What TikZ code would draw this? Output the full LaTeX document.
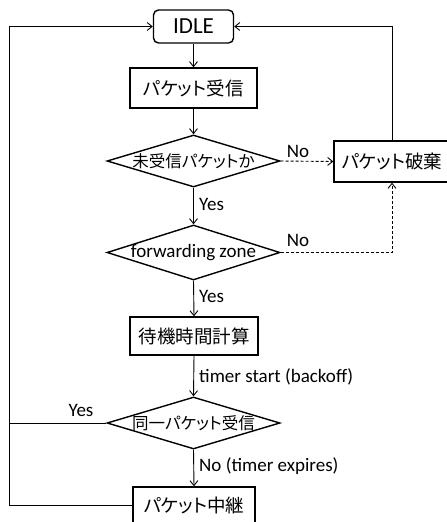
\documentclass[tikz,border=0pt]{standalone}
\usepackage{fontspec}
\setmainfont{Carlito}
\newfontfamily\jp[RawFeature=+palt]{Noto Sans CJK JP}
\usetikzlibrary{arrows.meta,shapes.geometric}
\begin{document}
\begin{tikzpicture}[x=1pt,y=-1pt,
  box/.style={draw,line width=1.4pt,inner sep=0pt,font=\jp\fontsize{18.5}{20}\selectfont},
  dia/.style={draw,shape=diamond,line width=1.4pt,inner sep=0pt,aspect=3.3,font=\jp\fontsize{16.5}{20}\selectfont},
  conn/.style={line width=0.9pt,-{Straight Barb[length=5pt,width=8pt]}},
  link/.style={line width=0.9pt},
  dconn/.style={conn,dashed,dash pattern=on 3pt off 2pt},
  lbl/.style={font=\fontsize{19}{21}\selectfont,inner sep=0pt}]
\useasboundingbox (0,0) rectangle (447,522);
\node[box,rounded corners=5pt,minimum width=80pt,minimum height=33pt,font=\fontsize{23}{25}\selectfont] (idle) at (193.5,26.5) {IDLE};
\node[box,minimum width=127pt,minimum height=40pt] (recv) at (193.5,88) {パケット受信};
\node[dia,minimum width=173pt,minimum height=52pt] (d1) at (193.5,161) {\makebox[0pt]{未受信パケットか}};
\node[box,minimum width=116pt,minimum height=41pt] (discard) at (392,161.5) {パケット破棄};
\node[dia,minimum width=173pt,minimum height=55pt,font=\fontsize{19}{21}\selectfont] (d2) at (193.5,252.5) {\makebox[0pt]{forwarding zone}};
\node[box,minimum width=128pt,minimum height=38pt] (calc) at (194,336) {待機時間計算};
\node[dia,minimum width=173pt,minimum height=52pt] (d3) at (193.5,423) {\makebox[0pt]{同一パケット受信}};
\node[box,minimum width=122pt,minimum height=36pt] (relay) at (194,505) {パケット中継};
\coordinate (lb) at (9,505);
\coordinate (lt) at (9,26.5);
\coordinate (ly) at (9,423);
\draw[conn] (idle.south) -- (recv.north);
\draw[conn] (recv.south) -- (d1.north);
\draw[conn] (d1.south) -- (d2.north);
\draw[conn] (d2.south) -- (calc.north);
\draw[conn] (calc.south) -- (d3.north);
\draw[conn] (d3.south) -- (relay.north);
\draw[conn] (relay.west) -- (lb) -- (lt) -- (idle.west);
\draw[link] (d3.west) -- (ly);
\draw[conn] (discard.north) |- (idle.east);
\draw[dconn] (d1.east) -- (discard.west);
\draw[dconn] (d2.east) -| (discard.south);
\node[lbl,anchor=west] (y1) at (199,204) {Yes};
\node[lbl,anchor=west] (y2) at (199,296) {Yes};
\node[lbl,anchor=west] (ts) at (199,377) {timer start (backoff)};
\node[lbl,anchor=west] (te) at (199,466) {No (timer expires)};
\node[lbl] (n1) at (298,151) {No};
\node[lbl] (n2) at (298,240) {No};
\node[lbl] (y3) at (81,410) {Yes};
\end{tikzpicture}
\end{document}
